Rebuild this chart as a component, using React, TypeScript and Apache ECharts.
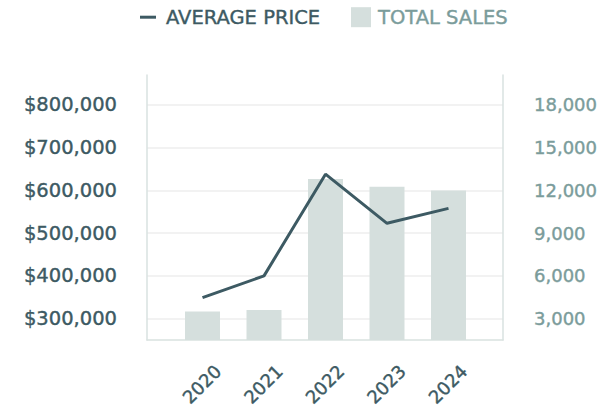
import React, { useEffect, useRef } from "react";
import * as echarts from "echarts";

const years = ["2020", "2021", "2022", "2023", "2024"];
const averagePrice = [349000, 400000, 638000, 523000, 558000];
const totalSales = [3500, 3600, 12800, 12250, 12000];
const priceTicks = [300000, 400000, 500000, 600000, 700000, 800000];
const salesTicks = [3000, 6000, 9000, 12000, 15000, 18000];

const DARK = "#3d5a63";
const TEAL = "#7b9c9b";
const BAR = "#d5dfdd";
const AXIS = "#d9e2e0";
const FONT = "DejaVu Sans";

const fmt = (v: number) => v.toLocaleString("en-US");

export default function App() {
  const ref = useRef<HTMLDivElement>(null);
  useEffect(() => {
    if (!ref.current) return;
    const chart = echarts.init(ref.current, null, { renderer: "svg" });
    const top = 75;
    const bottom = 71;
    chart.setOption({
      animation: false,
      backgroundColor: "#ffffff",
      legend: [
        {
          data: [{ name: "AVERAGE PRICE", icon: "rect", itemStyle: { color: DARK } }],
          left: 140,
          top: 7,
          padding: 0,
          itemWidth: 16,
          itemHeight: 3,
          textStyle: {
            color: DARK, fontSize: 19.5, fontFamily: FONT, padding: [0, 0, 0, 5],
            textBorderColor: DARK, textBorderWidth: 0.4,
          },
        },
        {
          data: [{ name: "TOTAL SALES", icon: "rect", itemStyle: { color: BAR } }],
          left: 351,
          top: 7,
          padding: 0,
          itemWidth: 20,
          itemHeight: 20,
          textStyle: {
            color: TEAL, fontSize: 19.5, fontFamily: FONT, padding: [0, 0, 0, 2],
            textBorderColor: TEAL, textBorderWidth: 0.4,
          },
        },
      ],
      grid: [
        { left: 147, right: 101, top, bottom },
        { left: 171.75, right: 124.75, top, bottom },
        { left: 187.25, right: 109.25, top, bottom },
      ],
      xAxis: [
        {
          gridIndex: 0,
          type: "value",
          min: 0,
          max: 1,
          axisLine: { show: true, lineStyle: { color: AXIS, width: 1.5 } },
          axisTick: { show: false },
          axisLabel: { show: false },
          splitLine: { show: false },
        },
        { gridIndex: 1, type: "category", data: years, show: false },
        {
          gridIndex: 2,
          type: "category",
          data: years,
          axisLine: { show: false },
          axisTick: { show: false },
          axisLabel: {
            rotate: 45,
            margin: 28,
            color: DARK,
            fontSize: 18,
            fontFamily: FONT,
            textBorderColor: DARK,
            textBorderWidth: 0.4,
          },
        },
      ],
      yAxis: [
        {
          gridIndex: 0,
          type: "value",
          position: "left",
          min: 250000,
          max: 870000,
          axisLine: { show: true, lineStyle: { color: AXIS, width: 1.5 } },
          axisTick: { show: false },
          axisLabel: {
            margin: 30,
            color: DARK,
            fontSize: 19.5,
            fontFamily: FONT,
            textBorderColor: DARK,
            textBorderWidth: 0.4,
            formatter: (v: number) => (priceTicks.includes(v) ? "$" + fmt(v) : ""),
          },
          splitLine: { show: true, showMinLine: false, showMaxLine: false, lineStyle: { color: "#eeeeee", width: 1.5 } },
        },
        {
          gridIndex: 0,
          type: "value",
          position: "right",
          min: 1500,
          max: 20100,
          axisLine: { show: true, lineStyle: { color: AXIS, width: 1.5 } },
          axisTick: { show: false },
          axisLabel: {
            margin: 31,
            color: TEAL,
            fontSize: 18,
            fontFamily: FONT,
            textBorderColor: TEAL,
            textBorderWidth: 0.4,
            formatter: (v: number) => (salesTicks.includes(v) ? fmt(v) : ""),
          },
          splitLine: { show: false },
        },
        { gridIndex: 1, type: "value", min: 250000, max: 870000, show: false, splitLine: { show: false } },
        { gridIndex: 1, type: "value", min: 1500, max: 20100, show: false, splitLine: { show: false } },
        { gridIndex: 2, type: "value", min: 0, max: 1, show: false, splitLine: { show: false } },
      ],
      series: [
        {
          name: "TOTAL SALES",
          type: "bar",
          xAxisIndex: 1,
          yAxisIndex: 3,
          data: totalSales,
          barWidth: 35,
          itemStyle: { color: BAR },
          z: 2,
        },
        {
          name: "AVERAGE PRICE",
          type: "line",
          xAxisIndex: 1,
          yAxisIndex: 2,
          data: averagePrice,
          symbol: "none",
          lineStyle: { color: DARK, width: 3 },
          itemStyle: { color: DARK },
          z: 3,
        },
      ],
    });
    return () => chart.dispose();
  }, []);
  return (
    <div
      ref={ref}
      style={{ position: "fixed", left: 0, top: 0, width: 604, height: 411 }}
    />
  );
}
